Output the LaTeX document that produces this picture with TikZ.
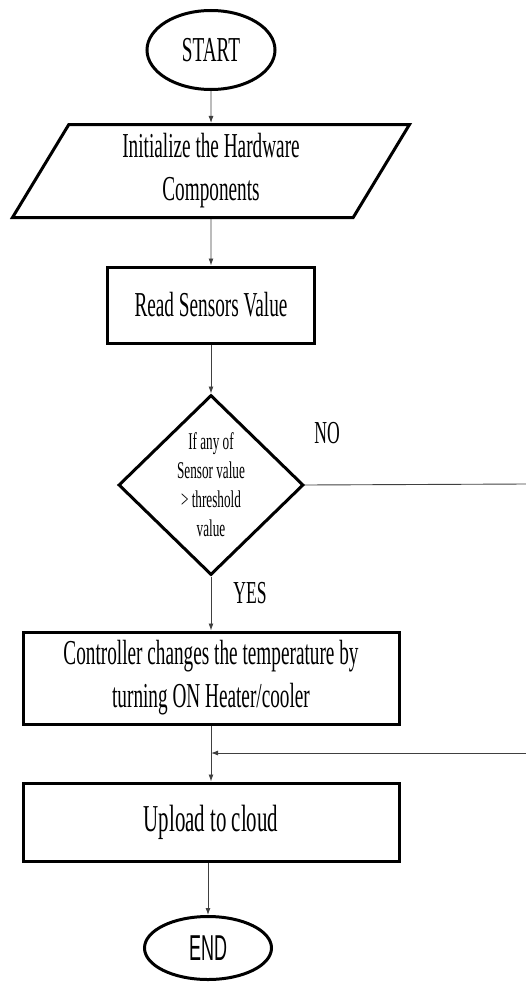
\documentclass[tikz,border=0pt]{standalone}
\usepackage{fontspec}
\setmainfont{Liberation Serif}[FakeStretch=0.55]
\newfontfamily\endfont{Liberation Sans}[FakeStretch=0.5]
\usetikzlibrary{shapes.geometric,arrows.meta}

\begin{document}
\begin{tikzpicture}[x=1pt,y=-1pt,
  term/.style={draw,ellipse,line width=3pt,inner sep=0pt},
  proc/.style={draw,rectangle,line width=3pt,inner sep=0pt,align=center},
  io/.style={draw,trapezium,trapezium left angle=53,trapezium right angle=127,
    trapezium stretches body,line width=3pt,inner sep=0pt,align=center},
  dec/.style={draw,diamond,line width=3pt,inner sep=0pt,align=center},
  line/.style={line width=0.9pt,black!75},
  flow/.style={line,-{Latex[length=7pt,width=5pt]}},
  big/.style={font=\fontsize{35}{43}\selectfont}]

\useasboundingbox (0,0) rectangle (526,982);

\node[term,big,minimum width=128pt,minimum height=79pt] (start) at (211,50) {START};
\node[io,big,minimum width=397pt,minimum height=93pt] (init) at (211,171) {Initialize the Hardware\\Components};
\node[proc,big,minimum width=207pt,minimum height=76pt] (read) at (211,305) {Read Sensors Value};
\node[dec,font=\fontsize{24}{29}\selectfont,minimum width=185pt,minimum height=180pt] (check) at (211,485) {If any of\\Sensor value\\> threshold\\value};
\node[proc,big,minimum width=376pt,minimum height=92pt] (ctrl) at (211,678) {Controller changes the temperature by\\turning ON Heater/cooler};
\node[proc,font=\fontsize{38}{45}\selectfont,minimum width=376pt,minimum height=78pt] (upload) at (211,822) {Upload to cloud};
\node[term,font=\endfont\fontsize{36}{43}\selectfont,minimum width=127pt,minimum height=63pt] (stop) at (208,948) {END};

\node[font=\fontsize{32}{38}\selectfont] (nolbl) at (327,433) {NO};
\node[font=\fontsize{32}{38}\selectfont] (yeslbl) at (250,593) {YES};

\coordinate (noend) at (526,484);
\coordinate (backin) at (526,753);
\coordinate (merge) at (ctrl.south |- backin);

\draw[flow] (start.south) -- (init.north);
\draw[flow] (init.south) -- (read.north);
\draw[flow] (read.south) -- (check.north);
\draw[flow] (check.south) -- (ctrl.north);
\draw[flow] (ctrl.south) -- (upload.north);
\draw[flow] (upload.south -| stop.north) -- (stop.north);
\draw[line] (check.east) -- (noend);
\draw[flow] (backin) -- (merge);

\end{tikzpicture}
\end{document}
